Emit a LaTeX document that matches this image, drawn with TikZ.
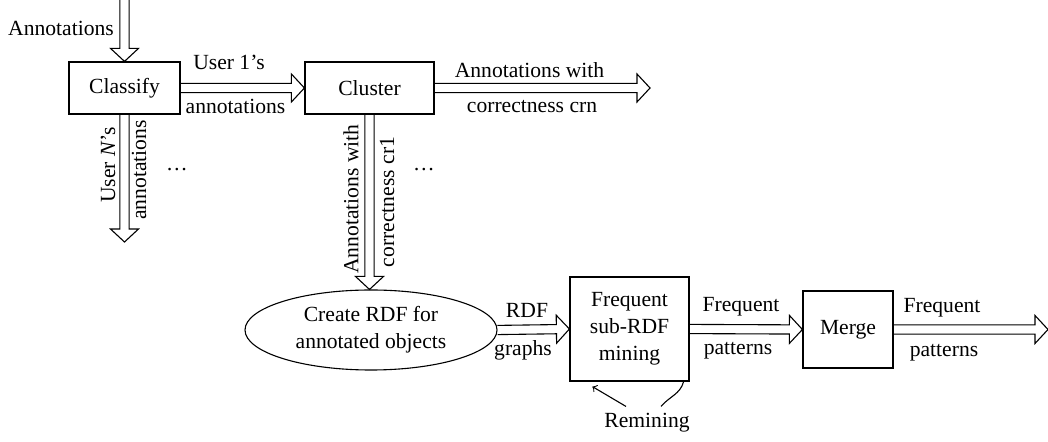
\documentclass[tikz,border=0pt]{standalone}
\usepackage{fontspec}
\setmainfont{Liberation Serif}
\usetikzlibrary{shapes.geometric,calc,arrows}

\tikzset{
  box/.style={draw, line width=0.6pt, inner sep=2pt},
  fat/.style={line width=0.55pt, line join=miter, to path={
    let \p1=(\tikztostart), \p2=(\tikztotarget),
        \n1={atan2(\y2-\y1,\x2-\x1)}, \n2={veclen(\x2-\x1,\y2-\y1)} in
    ([shift={(\p1)},rotate=\n1]0pt,2.3pt) -- ([shift={(\p1)},rotate=\n1]\n2-6.5pt,2.3pt)
    -- ([shift={(\p1)},rotate=\n1]\n2-6.5pt,7pt) -- (\p2)
    -- ([shift={(\p1)},rotate=\n1]\n2-6.5pt,-7pt) -- ([shift={(\p1)},rotate=\n1]\n2-6.5pt,-2.3pt)
    -- ([shift={(\p1)},rotate=\n1]0pt,-2.3pt)}}
}

\begin{document}
\begin{tikzpicture}[x=0.5pt,y=-0.5pt,font=\fontsize{10.8}{13.5}\selectfont]
\useasboundingbox (0,0) rectangle (1048,442);
%-------->nodes<--------------
\node[box, minimum width=55.5pt, minimum height=26pt] (classify) at (124.5,88) {Classify};
\node[box, minimum width=64.5pt, minimum height=26pt] (cluster) at (369.5,88) {Cluster};
\node[ellipse, draw, line width=0.55pt, minimum width=126pt, minimum height=40pt, inner sep=0pt, align=center] (rdf) at (371,330) {Create RDF for\\annotated objects};
\node[box, minimum width=59.5pt, minimum height=52pt, align=center] (mining) at (629.5,329) {Frequent\\sub-RDF\\mining};
\node[box, minimum width=45pt, minimum height=38.5pt] (merge) at (848,329.5) {Merge};
\node (remin) at (647,423) {Remining};
%-------->free ends<--------------
\coordinate (in) at (124.5,0);
\coordinate (usrN) at (124.5,242);
\coordinate (crn) at (650,88);
\coordinate (out) at (1048,329.5);
%------------->fat arrows<------------------
\draw[fat] (in) to (classify.north);
\draw[fat] (classify.east) to (cluster.west);
\draw[fat] (classify.south) to (usrN);
\draw[fat] (cluster.east) to (crn);
\draw[fat] (cluster.south) to (cluster.south |- rdf.north);
\draw[fat] (rdf.east) to (mining.west);
\draw[fat] (mining.east) to (merge.west);
\draw[fat] (merge.east) to (out);
%------------->remining loop<------------------
\draw[line width=0.55pt] ([xshift=-3pt]mining.south east) to[out=-105,in=50] ([xshift=7pt]remin.north);
\draw[line width=0.55pt,->] ([xshift=-10.5pt]remin.north) -- ([xshift=11.5pt,yshift=-2.5pt]mining.south west);
%-----------> labels <---------------
\node (lin) at (61,28) {Annotations};
\node (l1a) at (229,62) {User 1’s};
\node (l1b) at (235.5,106) {annotations};
\node (lna) at (108,165) [rotate=90] {User \textit{N}’s};
\node (lnb) at (139,170) [rotate=90] {annotations};
\node (dots1) at (177,170) {\dots};
\node (lca) at (351,199) [rotate=90] {Annotations with};
\node (lcb) at (387,202) [rotate=90] {correctness cr1};
\node (dots2) at (424,170) {\dots};
\node (lra) at (529.5,70) {Annotations with};
\node (lrb) at (532,107) {correctness crn};
\node (lga) at (527,310) {RDF};
\node (lgb) at (523,350) {graphs};
\node (lpa) at (741,307) {Frequent};
\node (lpb) at (738,351) {patterns};
\node (lqa) at (942,308) {Frequent};
\node (lqb) at (944,353) {patterns};
\end{tikzpicture}
\end{document}
